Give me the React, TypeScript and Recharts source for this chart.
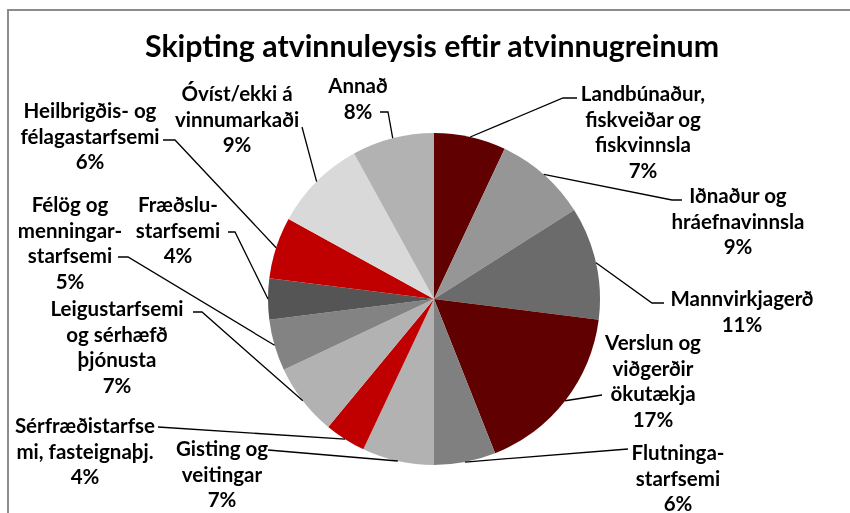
import React from 'react';
import { PieChart, Pie, Cell } from 'recharts';

const TITLE = 'Skipting atvinnuleysis eftir atvinnugreinum';

const CATEGORIES = [
  'Landbúnaður,\nfiskveiðar og\nfiskvinnsla',
  'Iðnaður og\nhráefnavinnsla',
  'Mannvirkjagerð',
  'Verslun og\nviðgerðir\nökutækja',
  'Flutninga-\nstarfsemi',
  'Gisting og\nveitingar',
  'Sérfræðistarfse\nmi, fasteignaþj.',
  'Leigustarfsemi\nog sérhæfð\nþjónusta',
  'Félög og\nmenningar-\nstarfsemi',
  'Fræðslu-\nstarfsemi',
  'Heilbrigðis- og\nfélagastarfsemi',
  'Óvíst/ekki á\nvinnumarkaði',
  'Annað',
];

const SHARES = [7, 9, 11, 17, 6, 7, 4, 7, 5, 4, 6, 9, 8];

const COLORS = [
  '#600000', '#969696', '#6b6b6b', '#600000', '#808080', '#b2b2b2', '#c00000',
  '#b2b2b2', '#838383', '#555555', '#c00000', '#d9d9d9', '#b2b2b2',
];

// label block centre (x, first line y) and the bend of each leader line
const LABEL_LAYOUT = [
  { x: 643, y: 93, bend: [563, 98], end: [577, 98] },
  { x: 738, y: 195, bend: [672, 200], end: [682, 200] },
  { x: 742, y: 298, bend: [652, 303], end: [664, 303] },
  { x: 653, y: 342, bend: [602, 395], end: [602, 395] },
  { x: 678, y: 452, bend: [628, 449], end: [628, 449] },
  { x: 222, y: 448, bend: [268, 450], end: [268, 450] },
  { x: 85, y: 425, bend: [158, 427], end: [158, 427] },
  { x: 117, y: 308, bend: [202, 312], end: [193, 312] },
  { x: 70, y: 204, bend: [128, 257], end: [118, 257] },
  { x: 178, y: 204, bend: [235, 232], end: [228, 232] },
  { x: 90, y: 110, bend: [175, 140], end: [163, 140] },
  { x: 237, y: 93, bend: [302, 127], end: [302, 127] },
  { x: 358, y: 85, bend: [388, 112], end: [380, 112] },
];

const LINE_H = 25.5;
const RAD = Math.PI / 180;

const data = CATEGORIES.map((name, i) => ({ name, value: SHARES[i] }));

const renderLabel = (props: any) => {
  const { cx, cy, midAngle, outerRadius, index } = props;
  const lay = LABEL_LAYOUT[index];
  const px = cx + outerRadius * Math.cos(-midAngle * RAD);
  const py = cy + outerRadius * Math.sin(-midAngle * RAD);
  const lines = [...CATEGORIES[index].split('\n'), `${SHARES[index]}%`];
  return (
    <g key={`lbl-${index}`}>
      <polyline
        points={`${px},${py} ${lay.bend[0]},${lay.bend[1]} ${lay.end[0]},${lay.end[1]}`}
        fill="none"
        stroke="#000"
        strokeWidth={1.3}
      />
      <text
        x={lay.x}
        y={lay.y}
        textAnchor="middle"
        dominantBaseline="central"
        fontFamily="Lato"
        fontWeight="bold"
        fontSize={20.5}
        fill="#000"
      >
        {lines.map((l, k) => (
          <tspan key={k} x={lay.x} dy={k === 0 ? 0 : LINE_H}>
            {l}
          </tspan>
        ))}
      </text>
    </g>
  );
};

export default function App() {
  return (
    <div style={{ width: 834, height: 497 }}>
      <div style={{ position: 'fixed', left: 0, top: 0, width: 850, height: 513, overflow: 'visible' }}>
        <div
          style={{
            position: 'absolute',
            left: 7,
            top: 9,
            width: 843,
            height: 504,
            borderTop: '2px solid #8c8c8c',
            borderLeft: '2px solid #8c8c8c',
          }}
        />
        <div style={{ position: 'absolute', left: 0, top: 0 }}>
          <PieChart width={850} height={513} style={{ overflow: 'visible' }}>
            <text
              x={432}
              y={45}
              textAnchor="middle"
              dominantBaseline="central"
              fontFamily="Lato"
              fontWeight="bold"
              fontSize={30.3}
              fill="#000"
            >
              {TITLE}
            </text>
            <Pie
              data={data}
              dataKey="value"
              nameKey="name"
              cx={429}
              cy={294}
              outerRadius={166}
              startAngle={90}
              endAngle={-270}
              stroke="none"
              label={renderLabel}
              labelLine={false}
              isAnimationActive={false}
            >
              {data.map((d, i) => (
                <Cell key={`cell-${i}`} fill={COLORS[i]} />
              ))}
            </Pie>
          </PieChart>
        </div>
      </div>
    </div>
  );
}
